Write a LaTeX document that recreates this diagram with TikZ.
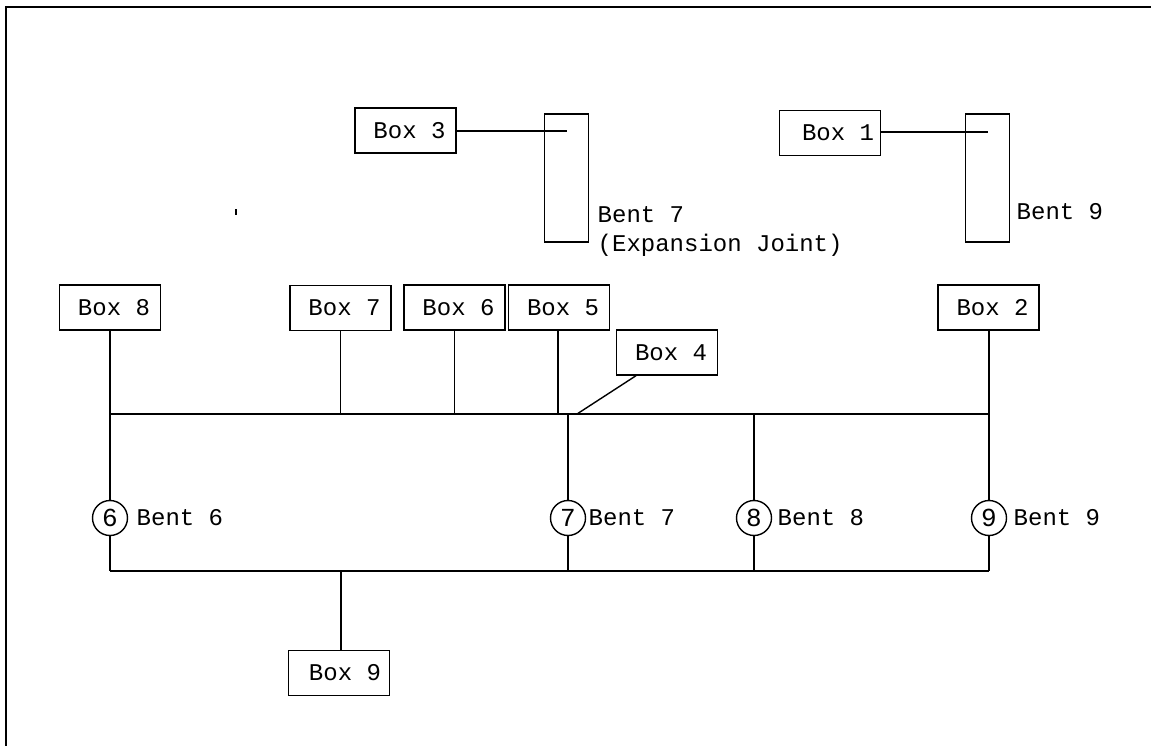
\documentclass[tikz,border=0pt]{standalone}
\usepackage{fontspec}
\setmainfont{Liberation Mono}
\begin{document}
\begin{tikzpicture}[x=1pt,y=-1pt,line width=1.4pt,
  every node/.style={font=\fontsize{24}{28}\selectfont, inner sep=0pt},
  boxnode/.style={draw, minimum width=101pt, minimum height=45pt, execute at begin node=\hspace*{8pt}},
  bentrect/.style={draw, minimum width=44pt, minimum height=128pt},
  bentcirc/.style={draw, circle, minimum size=35pt, font=\fontsize{26}{28}\selectfont},
  lbl/.style={anchor=west}]
\useasboundingbox (0,0) rectangle (1151,746);
\draw[line width=2pt] (6,746) -- (6,7) -- (1151,7);
% top section
\node[boxnode] (box3) at (405.5,130.5) {Box 3};
\node[bentrect] (rect7) at (566.5,178) {};
\coordinate (in7) at (567,131);
\draw (box3.east |- in7) -- (in7);
\node[lbl] (t7a) at (597,215) {Bent 7};
\node[lbl] (t7b) at (597,245) {(Expansion Joint)};
\node[boxnode] (box1) at (830,133) {\hspace*{8pt}Box 1};
\node[bentrect] (rect9) at (987.5,178) {};
\coordinate (in9) at (988,132);
\draw (box1.east |- in9) -- (in9);
\node[lbl] (t9a) at (1016,212) {Bent 9};
\fill (235,209) rectangle (237,215);
% upper boxes
\node[boxnode] (box8) at (110,307.5) {Box 8};
\node[boxnode] (box7) at (340.5,308) {Box 7};
\node[boxnode] (box6) at (454.5,307.5) {Box 6};
\node[boxnode] (box5) at (559,307.5) {Box 5};
\node[boxnode] (box4) at (667,352.5) {Box 4};
\node[boxnode] (box2) at (988.5,307.5) {Box 2};
% bus lines
\coordinate (tL) at (110,414);
\coordinate (tR) at (989,414);
\coordinate (bL) at (110,571);
\coordinate (bR) at (989,571);
\coordinate (d4) at (577,414);
\draw (tL) -- (tR);
\draw (bL) -- (bR);
\draw (box8.south) -- (tL);
\draw (box7.south) -- (box7.south |- tL);
\draw (box6.south) -- (box6.south |- tL);
\draw ([xshift=-1pt]box5.south) -- ([xshift=-1pt]box5.south |- tL);
\draw ([xshift=-31pt]box4.south) -- (d4);
\draw (box2.south -| tR) -- (tR);
% bents
\node[bentcirc] (c6) at (110,518) {6};
\node[bentcirc] (c7) at (568,518) {7};
\node[bentcirc] (c8) at (754,518) {8};
\node[bentcirc] (c9) at (989,518) {9};
\draw (tL) -- (c6) -- (bL);
\draw (c7 |- tL) -- (c7) -- (c7 |- bL);
\draw (c8 |- tL) -- (c8) -- (c8 |- bL);
\draw (tR) -- (c9) -- (bR);
\node[lbl] (l6) at (136,518) {Bent 6};
\node[lbl] (l7) at (588,518) {Bent 7};
\node[lbl] (l8) at (777,518) {Bent 8};
\node[lbl] (l9) at (1013,518) {Bent 9};
% bottom box
\node[boxnode] (box9) at (339,673) {\hspace*{4pt}Box 9};
\draw (box9.north -| 341,0) -- (bL -| 341,0);
\end{tikzpicture}
\end{document}
